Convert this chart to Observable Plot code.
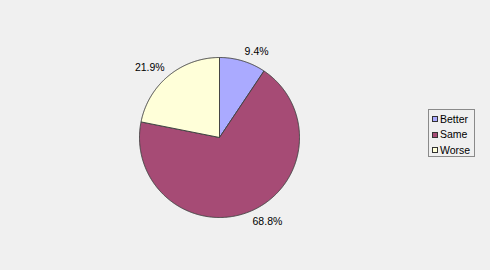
<!DOCTYPE html>
<html>
<head>
<meta charset="utf-8">
<script src="https://cdn.jsdelivr.net/npm/d3@7"></script>
<script src="https://cdn.jsdelivr.net/npm/@observablehq/plot@0.6"></script>
<style>
  html, body { margin: 0; padding: 0; background: #f0f0f0; }
  #wrap { position: relative; width: 490px; height: 270px; overflow: hidden; }
  #legend { position: absolute; left: 428px; top: 109px; width: 47px; height: 48px; border: 1px solid #8a8a8a;
    background: #f0f0f0; font: 10.5px "Liberation Sans", Arial, sans-serif; color: #000; padding: 1.5px 0 0 3px; box-sizing: border-box; }
  .item { display: flex; align-items: center; height: 15.5px; line-height: 15.5px; }
  .sw { width: 4px; height: 4px; border: 1px solid #333; margin-right: 2px; flex: none; }
</style>
</head>
<body>
<div id="wrap"></div>
<script>
const categories = ["Better", "Same", "Worse"];
const values = [9.4, 68.8, 21.9];
const labels = ["9.4%", "68.8%", "21.9%"];
const colors = ["#aaaaff", "#a64b75", "#ffffd9"];

const cx = 219, cy = 137, r = 80;
const pie = d3.pie().sort(null).value((d, i) => values[i]);
const arcs = pie(categories);

const pts = [];
arcs.forEach((a, i) => {
  const cat = categories[i];
  pts.push({cat, x: 0, y: 0});
  const n = Math.max(4, Math.ceil((a.endAngle - a.startAngle) / 0.01));
  for (let k = 0; k <= n; k++) {
    const t = a.startAngle + (a.endAngle - a.startAngle) * k / n;
    pts.push({cat, x: Math.sin(t), y: Math.cos(t)});
  }
  pts.push({cat, x: 0, y: 0});
});
const lab = arcs.map((a, i) => {
  const m = (a.startAngle + a.endAngle) / 2;
  const x = 1.08 * Math.sin(m), y = 1.08 * Math.cos(m);
  return {label: labels[i], x, y, right: x >= 0, top: y >= 0};
});
const textOpts = {x: "x", y: "y", text: "label", fontSize: 10.5, fill: "#000"};

const chart = Plot.plot({
  width: 490, height: 270,
  margin: 0,
  style: {background: "#f0f0f0", fontFamily: "'Liberation Sans', Arial, sans-serif"},
  x: {domain: [-1, 1], range: [cx - r, cx + r], axis: null},
  y: {domain: [-1, 1], range: [cy + r, cy - r], axis: null},
  color: {domain: categories, range: colors},
  marks: [
    Plot.line(pts, {x: "x", y: "y", z: "cat", fill: "cat", stroke: "#444", strokeWidth: 1, curve: "linear"}),
    Plot.text(lab.filter(d => d.right && d.top), {...textOpts, textAnchor: "start", lineAnchor: "bottom"}),
    Plot.text(lab.filter(d => !d.right && d.top), {...textOpts, textAnchor: "end", lineAnchor: "bottom"}),
    Plot.text(lab.filter(d => d.right && !d.top), {...textOpts, textAnchor: "start", lineAnchor: "top"}),
    Plot.text(lab.filter(d => !d.right && !d.top), {...textOpts, textAnchor: "end", lineAnchor: "top"})
  ]
});
document.getElementById("wrap").appendChild(chart);

const leg = document.createElement("div");
leg.id = "legend";
categories.forEach((c, i) => {
  const it = document.createElement("div");
  it.className = "item";
  const sw = document.createElement("span");
  sw.className = "sw";
  sw.style.background = colors[i];
  const tx = document.createElement("span");
  tx.textContent = c;
  it.appendChild(sw); it.appendChild(tx);
  leg.appendChild(it);
});
document.getElementById("wrap").appendChild(leg);
</script>
</body>
</html>
